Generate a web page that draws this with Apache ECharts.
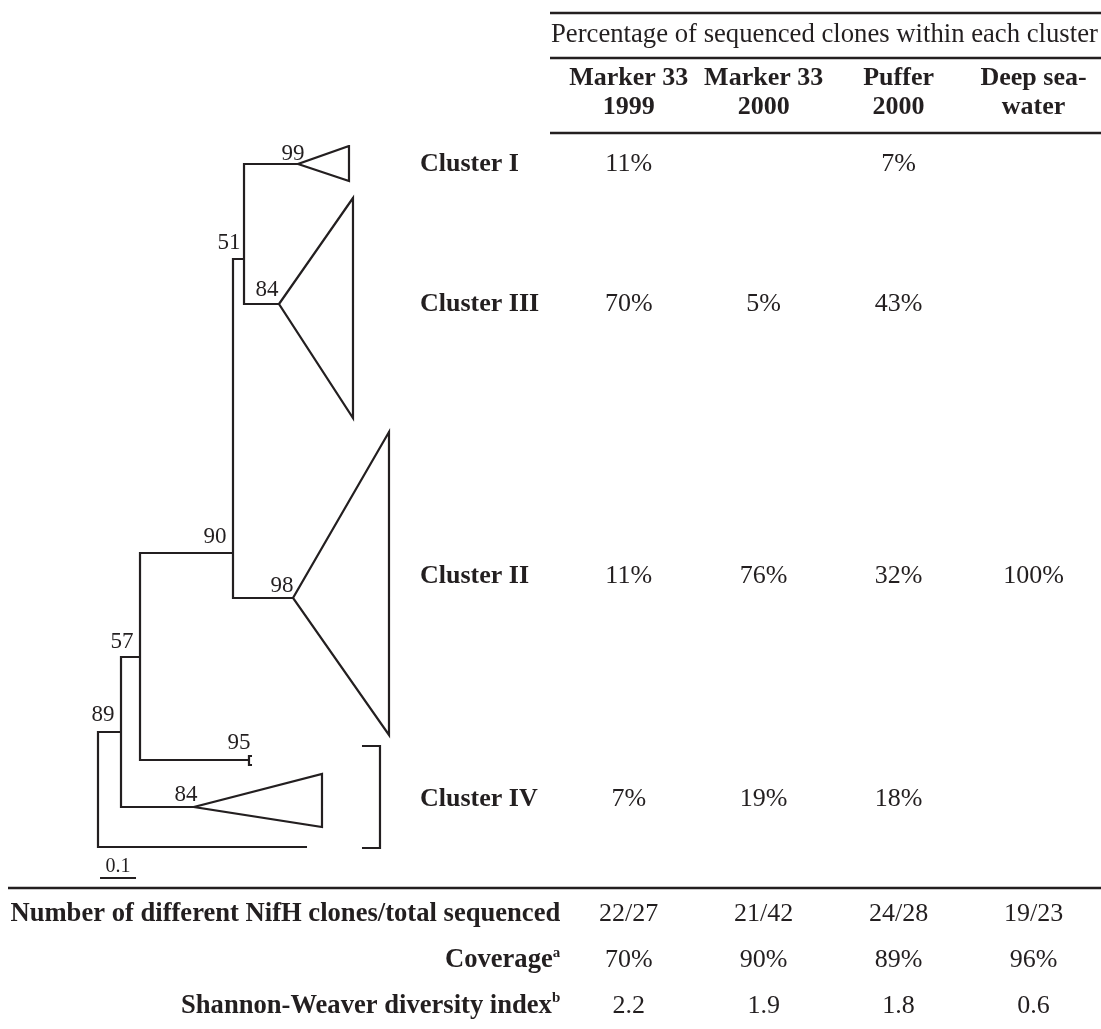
<!DOCTYPE html>
<html>
<head>
<meta charset="utf-8">
<script src="https://cdn.jsdelivr.net/npm/echarts@6/dist/echarts.min.js"></script>
<style>
html,body{margin:0;padding:0;background:#ffffff;}
#chart{width:1101px;height:1029px;}
</style>
</head>
<body>
<div id="chart"></div>
<script>
// ---------------- DATA ----------------
// Table columns (samples)
const samples = ['Marker 33\n1999', 'Marker 33\n2000', 'Puffer\n2000', 'Deep sea-\nwater'];
const tableTitle = 'Percentage of sequenced clones within each cluster';

// Clusters (rows of the upper table, next to the tree)
const clusterNames = ['Cluster I', 'Cluster III', 'Cluster II', 'Cluster IV'];
const clusterRowPos = [1.8, 15.8, 43.0, 65.3];          // vertical position in tree units

// Percentage of clones in each cluster, per sample (null = empty cell)
const pctMarker1999 = [11, 70, 11, 7];
const pctMarker2000 = [null, 5, 76, 19];
const pctPuffer2000 = [7, 43, 32, 18];
const pctDeepSea    = [null, null, 100, null];

// Summary rows
const footerRows  = ['Number of different NifH clones/total sequenced', 'Coverage', 'Shannon-Weaver diversity index'];
const footerNotes = ['', 'a', 'b'];
const clonesDiffTotal = ['22/27', '21/42', '24/28', '19/23'];
const coveragePct     = [70, 90, 89, 96];
const shannonIndex    = [2.2, 1.9, 1.8, 0.6];

// Tree: [id, parent, distance from root (subst./site), vertical position]
const treeNodes = [
  ['root',     null,   0,      null],
  ['n89',      'root', 0.0639, 58.6],
  ['outgroup', 'root', 0.5806, 70.1],
  ['n57',      'n89',  0.1167, 51.1],
  ['cIV',      'n89',  0.2667, 66.1],
  ['n90',      'n57',  0.375,  40.7],
  ['t95',      'n57',  0.4194, 61.4],
  ['n51',      'n90',  0.4056, 11.3],
  ['cII',      'n90',  0.5417, 45.2],
  ['cI',       'n51',  0.5556, 1.8],
  ['cIII',     'n51',  0.5028, 15.8]
];
// Collapsed clades: [node, tip distance, top, bottom]
const collapsedClades = [
  ['cI',   0.6972, 0,    3.5],
  ['cIII', 0.7083, 5.2,  27.2],
  ['cII',  0.8083, 28.6, 58.9],
  ['cIV',  0.6222, 62.8, 68.1]
];
const tinyClade = ['t95', 0.4278, 61.0, 61.9];
// Bracket around cluster IV: [x from, x to, top, bottom]
const bracketIV = [0.7333, 0.7833, 60.0, 70.2];
// Bootstrap values: [value, distance, vertical position]
const bootstrap = [
  [99, 0.5417, 0.8], [51, 0.3639, 9.7], [84, 0.4694, 14.4],
  [90, 0.325, 39.1], [98, 0.5111, 44.0], [57, 0.0667, 49.6],
  [89, 0.0139, 56.9], [95, 0.3917, 59.7], [84, 0.2444, 64.9]
];
const clusterLabelDist = 0.8944;
// Scale bar
const scaleBarLength = 0.1;
const scaleBarStart = 0.0056;
const scaleBarPos = 73.2;
const scaleBarLabelPos = 72.1;

// ---------------- BUILD ----------------
const FONT = '"Liberation Serif", "Times New Roman", serif';
const INK = '#231f20';

const byId = {};
treeNodes.forEach(n => { byId[n[0]] = { id: n[0], parent: n[1], x: n[2], y: n[3], children: [] }; });
Object.values(byId).forEach(n => { if (n.parent) byId[n.parent].children.push(n); });

const treePaths = [];
Object.values(byId).forEach(n => {
  if (n.children.length === 2) {
    const [a, b] = n.children.slice().sort((p, q) => p.y - q.y);
    treePaths.push({ coords: [[a.x, a.y], [n.x, a.y], [n.x, b.y], [b.x, b.y]] });
  }
});
collapsedClades.forEach(([id, tip, top, bot]) => {
  const n = byId[id];
  treePaths.push({ coords: [[n.x, n.y], [tip, top], [tip, bot], [n.x, n.y], [tip, top]] });
});
(function () {
  const n = byId[tinyClade[0]];
  treePaths.push({ coords: [[tinyClade[1], tinyClade[2]], [n.x, tinyClade[2]], [n.x, tinyClade[3]], [tinyClade[1], tinyClade[3]]] });
})();
treePaths.push({ coords: [[bracketIV[0], bracketIV[2]], [bracketIV[1], bracketIV[2]], [bracketIV[1], bracketIV[3]], [bracketIV[0], bracketIV[3]]] });
treePaths.push({ coords: [[scaleBarStart, scaleBarPos], [scaleBarStart + scaleBarLength, scaleBarPos]] });

const pctCols = [pctMarker1999, pctMarker2000, pctPuffer2000, pctDeepSea];
const pctData = [];
pctCols.forEach((col, i) => col.forEach((v, j) => { if (v !== null) pctData.push([i, clusterRowPos[j], v + '%']); }));

const footerData = [];
[clonesDiffTotal, coveragePct.map(v => v + '%'), shannonIndex.map(v => v.toFixed(1))].forEach((row, r) => {
  row.forEach((t, i) => footerData.push([i, r, t]));
});

const chart = echarts.init(document.getElementById('chart'), null, { renderer: 'canvas' });

const rule = (x1, x2, y) => ({ type: 'line', shape: { x1: x1, y1: y, x2: x2, y2: y }, style: { stroke: INK, lineWidth: 2.5 }, silent: true });

const textSeries = (xi, data, fontSize, extra) => Object.assign({
  type: 'scatter', xAxisIndex: xi, yAxisIndex: xi, symbolSize: 0, silent: true, data: data,
  itemStyle: { opacity: 1, color: INK },
  label: Object.assign({ show: true, position: 'inside', formatter: p => p.value[2],
    fontFamily: FONT, fontSize: fontSize, color: INK, opacity: 1 }, extra || {})
});

chart.setOption({
  animation: false,
  backgroundColor: '#ffffff',
  textStyle: { fontFamily: FONT, color: INK },
  title: {
    text: tableTitle, left: 551, top: 20, padding: 0,
    textStyle: { fontFamily: FONT, fontSize: 26.7, fontWeight: 'normal', color: INK, lineHeight: 30 }
  },
  graphic: [rule(550, 1101, 13), rule(550, 1101, 58), rule(550, 1101, 133), rule(8, 1101, 888)],
  grid: [
    { left: 98, top: 146, width: 360, height: 740 },
    { left: 561.25, top: 146, width: 546, height: 740 },
    { left: 561.25, top: 891.5, width: 546, height: 140 }
  ],
  xAxis: [
    { gridIndex: 0, type: 'value', min: 0, max: 1, show: false },
    { gridIndex: 1, type: 'category', data: samples, position: 'top',
      axisLine: { show: false }, axisTick: { show: false }, splitLine: { show: false },
      axisLabel: { interval: 0, margin: 24, fontFamily: FONT, fontWeight: 'bold', fontSize: 26, lineHeight: 29, color: INK } },
    { gridIndex: 2, type: 'category', data: samples, show: false }
  ],
  yAxis: [
    { gridIndex: 0, type: 'value', min: 0, max: 74, inverse: true, show: false },
    { gridIndex: 1, type: 'value', min: 0, max: 74, inverse: true, show: false },
    { gridIndex: 2, type: 'category', data: footerRows, inverse: true,
      axisLine: { show: false }, axisTick: { show: false }, splitLine: { show: false },
      axisLabel: {
        margin: 1,
        formatter: (v, i) => '{m|' + v + '}' + (footerNotes[i] ? '{s|' + footerNotes[i] + '}' : ''),
        rich: {
          m: { fontFamily: FONT, fontWeight: 'bold', fontSize: 26.6, lineHeight: 30, color: INK },
          s: { fontFamily: FONT, fontWeight: 'bold', fontSize: 15, lineHeight: 20, verticalAlign: 'top', color: INK }
        }
      } }
  ],
  series: [
    { type: 'lines', coordinateSystem: 'cartesian2d', xAxisIndex: 0, yAxisIndex: 0, polyline: true, silent: true,
      lineStyle: { color: INK, width: 2.2, opacity: 1, join: 'miter' }, data: treePaths },
    textSeries(0, bootstrap.map(b => [b[1], b[2], String(b[0])]), 23),
    textSeries(0, [[scaleBarStart + scaleBarLength / 2, scaleBarLabelPos, String(scaleBarLength)]], 20),
    textSeries(0, clusterNames.map((n, j) => [clusterLabelDist, clusterRowPos[j], n]), 26,
      { position: 'right', distance: 0, fontWeight: 'bold' }),
    textSeries(1, pctData, 26),
    textSeries(2, footerData, 26)
  ]
});
</script>
</body>
</html>
